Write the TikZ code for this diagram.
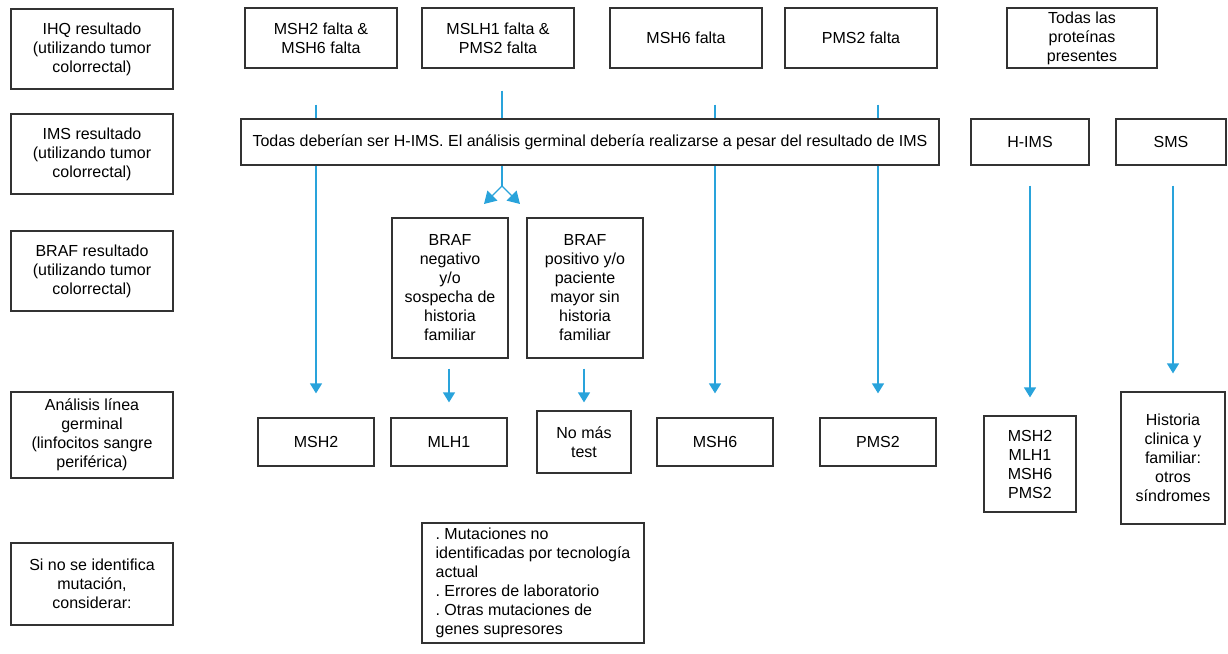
\documentclass[tikz,border=0pt]{standalone}
\usepackage{fontspec}
\setmainfont{Liberation Sans}
\usetikzlibrary{arrows.meta,backgrounds}
\definecolor{arrowblue}{RGB}{41,163,219}
\definecolor{boxgray}{RGB}{50,50,50}
\tikzset{
  box/.style={draw=boxgray,line width=1.2pt,fill=white,align=center,inner sep=0pt,
    font=\fontsize{16}{19}\selectfont\frenchspacing},
  arr/.style={draw=arrowblue,line width=1.3pt,-{Triangle[length=10pt,width=12pt]}},
  bigarr/.style={draw=arrowblue,line width=1.3pt,-{Triangle[length=12pt,width=14pt]}},
  ln/.style={draw=arrowblue,line width=1.3pt},
}
\begin{document}
\begin{tikzpicture}[x=1pt,y=-1pt]
\useasboundingbox (0,0) rectangle (1228,653);
% left column labels
\node[box,minimum width=162,minimum height=80] (lab1) at (92,49) {IHQ resultado\\(utilizando tumor\\colorrectal)};
\node[box,minimum width=162,minimum height=80] (lab2) at (92,154) {IMS resultado\\(utilizando tumor\\colorrectal)};
\node[box,minimum width=162,minimum height=80] (lab3) at (92,271) {BRAF resultado\\(utilizando tumor\\colorrectal)};
\node[box,minimum width=162,minimum height=86] (lab4) at (92,435) {Análisis línea\\germinal\\(linfocitos sangre\\periférica)};
\node[box,minimum width=162,minimum height=82] (lab5) at (92,584) {Si no se identifica\\mutación,\\considerar:};
% top row
\node[box,minimum width=152,minimum height=60] (t1) at (321,38) {MSH2 falta \&\\MSH6 falta};
\node[box,minimum width=152,minimum height=60] (t2) at (498,38) {MSLH1 falta \&\\PMS2 falta};
\node[box,minimum width=152,minimum height=60] (t3) at (686,38) {MSH6 falta};
\node[box,minimum width=152,minimum height=60] (t4) at (861,38) {PMS2 falta};
\node[box,minimum width=150,minimum height=60] (t5) at (1082,38) {Todas las\\proteínas\\presentes};
% IMS row
\node[box,minimum width=698,minimum height=46] (ims) at (590,142) {Todas deberían ser H-IMS. El análisis germinal debería realizarse a pesar del resultado de IMS};
\node[box,minimum width=118,minimum height=46] (hims) at (1030,142) {H-IMS};
\node[box,minimum width=110,minimum height=46] (sms) at (1171,142) {SMS};
% BRAF row
\node[box,minimum width=116,minimum height=140] (b1) at (450,288) {BRAF\\negativo\\y/o\\sospecha de\\historia\\familiar};
\node[box,minimum width=116,minimum height=140] (b2) at (585,288) {BRAF\\positivo y/o\\paciente\\mayor sin\\historia\\familiar};
% germline row
\node[box,minimum width=116,minimum height=48] (g1) at (316,442) {MSH2};
\node[box,minimum width=116,minimum height=48] (g2) at (449,442) {MLH1};
\node[box,minimum width=94,minimum height=62] (g3) at (584,442) {No más\\test};
\node[box,minimum width=116,minimum height=48] (g4) at (715,442) {MSH6};
\node[box,minimum width=116,minimum height=48] (g5) at (878,442) {PMS2};
\node[box,minimum width=92,minimum height=96] (g6) at (1030,464) {MSH2\\MLH1\\MSH6\\PMS2};
\node[box,minimum width=104,minimum height=132] (g7) at (1173,458) {Historia\\clinica y\\familiar:\\otros\\síndromes};
% bottom note
\node[box,minimum width=222,minimum height=120,align=left] (note) at (533,583) {. Mutaciones no\\identificadas por tecnología\\actual\\. Errores de laboratorio\\. Otras mutaciones de\\genes supresores};
% connectors
\coordinate (split) at (502,186);
\coordinate (tipL) at (484,204);
\coordinate (tipR) at (520,204);
\begin{scope}[on background layer]
\draw[arr,shorten <=36pt,shorten >=24pt] (g1.north |- t1.south) -- (g1.north);
\draw[arr,shorten <=36pt,shorten >=24pt] (g4.north |- t3.south) -- (g4.north);
\draw[arr,shorten <=36pt,shorten >=24pt] (g5.north |- t4.south) -- (g5.north);
\draw[ln,shorten <=22pt] (split |- t2.south) -- (split);
\draw[bigarr] (split) -- (tipL);
\draw[bigarr] (split) -- (tipR);
\draw[arr,shorten <=20pt,shorten >=18pt] (g6.north |- hims.south) -- (g6.north);
\draw[arr,shorten <=20pt,shorten >=18pt] (g7.north |- sms.south) -- (g7.north);
\draw[arr,shorten <=10pt,shorten >=15pt] (b2.south -| g2.north) -- (g2.north);
\draw[arr,shorten <=10pt,shorten >=8pt] (b2.south -| g3.north) -- (g3.north);
\end{scope}
\end{tikzpicture}
\end{document}
